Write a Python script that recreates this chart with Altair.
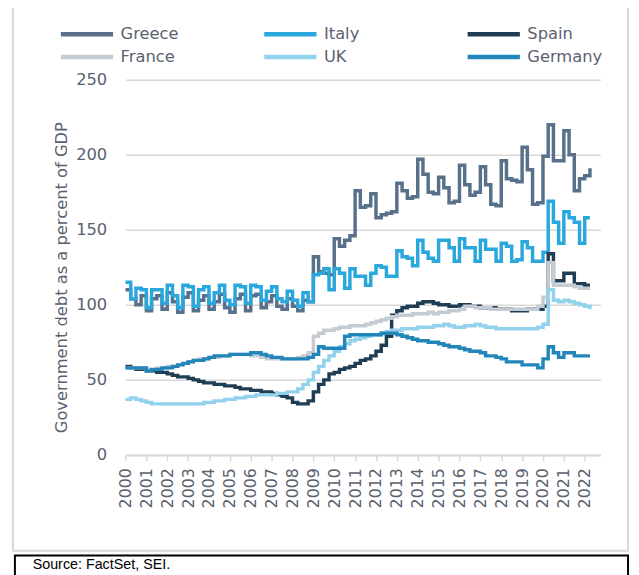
import altair as alt
import pandas as pd

# ---- data (quarterly, 2000Q1 .. 2022Q2) ----
years = list(range(2000, 2023))
countries = ["Greece", "Italy", "Spain", "France", "UK", "Germany"]
colors = {"Greece": "#587089", "Italy": "#2aa7dc", "Spain": "#1f3e54",
          "France": "#c5cbd2", "UK": "#93d2ec", "Germany": "#2386bb"}
row1 = ["Greece", "Italy", "Spain"]
row2 = ["France", "UK", "Germany"]

greece = [110, 104, 100, 106, 96, 104, 106, 97, 108, 102, 95, 105, 108, 96, 103, 106,
          97, 102, 107, 98, 95, 104, 107, 96, 106, 107, 98, 102, 106, 99, 97, 104,
          99, 96, 103, 102, 132, 122, 121, 120, 144, 139, 143, 146, 176, 165, 166, 174,
          158, 160, 161, 162, 181, 176, 171, 172, 197, 187, 175, 174, 185, 178, 168, 169,
          193, 180, 173, 175, 192, 180, 167, 166, 196, 184, 183, 182, 205, 190, 167, 168,
          199, 220, 196, 196, 216, 200, 176, 184, 186, 191]
italy = [115, 104, 111, 110, 98, 110, 110, 101, 113, 106, 98, 113, 112, 99, 110, 112,
         101, 108, 113, 103, 100, 113, 112, 101, 113, 112, 103, 109, 112, 104, 102, 109,
         103, 99, 108, 102, 120, 121, 124, 110, 124, 121, 111, 124, 119, 119, 113, 121,
         126, 125, 119, 119, 136, 132, 131, 126, 143, 135, 131, 129, 143, 143, 138, 129,
         144, 138, 138, 129, 143, 137, 137, 129, 141, 139, 129, 130, 142, 138, 129, 129,
         135, 169, 155, 141, 162, 158, 155, 141, 158, 158]
spain = [59, 58, 57, 57, 56, 56, 55, 55, 54, 53, 52, 52, 51, 50, 49, 48,
         48, 47, 47, 46, 46, 45, 44, 44, 43, 43, 42, 42, 41, 40, 39, 38,
         35, 34, 34, 36, 42, 47, 50, 54, 55, 57, 58, 59, 61, 63, 64, 66,
         69, 73, 79, 93, 96, 98, 99, 99, 101, 102, 102, 101, 100, 100, 99, 99,
         100, 100, 99, 99, 98, 98, 98, 97, 97, 97, 96, 96, 96, 97, 97, 97,
         99, 134, 116, 116, 121, 121, 114, 114, 113, 113]
france = [58, 58, 58, 58, 57, 57, 58, 58, 59, 59, 60, 61, 62, 63, 64, 64,
          65, 65, 66, 66, 67, 67, 67, 67, 66, 66, 65, 64, 64, 64, 64, 64,
          64, 65, 66, 68, 79, 81, 83, 83, 84, 85, 85, 86, 86, 86, 87, 88,
          89, 90, 91, 92, 93, 93, 93, 94, 94, 94, 95, 94, 95, 95, 96, 96,
          97, 99, 99, 98, 98, 98, 97, 97, 97, 97, 97, 97, 97, 97, 97, 99,
          105, 128, 113, 113, 113, 113, 112, 111, 111, 111]
uk = [37, 38, 37, 36, 35, 34, 34, 34, 34, 34, 34, 34, 34, 34, 34, 35,
      35, 36, 36, 37, 37, 38, 38, 39, 39, 40, 40, 40, 40, 41, 41, 42,
      42, 44, 47, 50, 55, 59, 63, 66, 69, 72, 74, 76, 77, 78, 79, 80,
      80, 81, 82, 83, 83, 84, 84, 84, 85, 85, 85, 86, 86, 87, 86, 85,
      85, 86, 86, 87, 86, 85, 85, 84, 84, 84, 84, 84, 84, 84, 84, 85,
      87, 110, 103, 102, 103, 102, 101, 100, 99, 97]
germany = [58, 58, 58, 58, 56, 57, 57, 58, 58, 59, 60, 61, 62, 63, 63, 64,
           65, 66, 66, 66, 67, 67, 67, 67, 68, 68, 67, 66, 65, 65, 64, 64,
           64, 64, 64, 65, 67, 72, 71, 71, 71, 71, 79, 80, 80, 80, 80, 80,
           80, 81, 81, 81, 80, 79, 78, 77, 76, 76, 75, 75, 74, 73, 72, 72,
           71, 70, 69, 69, 68, 66, 66, 65, 64, 62, 62, 62, 60, 60, 60, 58,
           64, 72, 68, 65, 68, 68, 66, 66, 66, 66]

series = {"Greece": greece, "Italy": italy, "Spain": spain,
          "France": france, "UK": uk, "Germany": germany}

rows = []
for c in countries:
    for i, v in enumerate(series[c]):
        rows.append({"country": c, "t": 2000 + i / 4, "value": v})
df = pd.DataFrame(rows)

TXT = "#5a6270"
FONT = "DejaVu Sans"

x_enc = alt.X("t:Q", title=None,
              scale=alt.Scale(domain=[2000, 2022.75], nice=False, zero=False),
              axis=alt.Axis(values=years, format="d", labelAngle=270, labelAlign="right",
                            labelBaseline="middle", labelPadding=7, labelFontSize=16,
                            labelColor=TXT, labelFont=FONT, grid=False, domain=True,
                            domainColor="#d9d9d9", domainWidth=2, ticks=True,
                            tickColor="#d9d9d9", tickSize=6, tickWidth=1.5,
                            labelOverlap=False, labelFlush=False))
y_enc = alt.Y("value:Q", title="Government debt as a percent of GDP",
              scale=alt.Scale(domain=[0, 250], nice=False),
              axis=alt.Axis(values=[0, 50, 100, 150, 200, 250], grid=True,
                            gridColor="#d9d9d9", gridWidth=1.5, domain=False, ticks=False,
                            labelPadding=19, labelFontSize=16.5, labelColor=TXT,
                            labelFont=FONT, titleFontSize=16.5, titleColor=TXT,
                            titleFont=FONT, titleFontWeight="normal",
                            titleX=-65, titleY=200, titleAngle=270,
                            titleAlign="center", titleBaseline="middle"))


def make_legend(y, pad):
    return alt.Legend(orient="none", legendX=-68, legendY=y, columns=3, title=None,
                      symbolType="stroke", symbolSize=2800, symbolStrokeWidth=4.5,
                      labelFontSize=16.5, labelColor=TXT, labelFont=FONT, labelOffset=5,
                      columnPadding=pad, gridAlign="all")


scale1 = alt.Scale(domain=row1, range=[colors[c] for c in row1])
scale2 = alt.Scale(domain=row2, range=[colors[c] for c in row2])
leg1 = make_legend(-75, 77)
leg2 = make_legend(-52, 60)

layers = []
for c in countries:
    base = alt.Chart(df).transform_filter(alt.datum.country == c).mark_line(
        interpolate="step-after", strokeWidth=3.5)
    if c in row1:
        layers.append(base.encode(x=x_enc, y=y_enc,
                                  color=alt.Color("country:N", scale=scale1, legend=leg1)))
    else:
        layers.append(base.encode(x=x_enc, y=y_enc,
                                  stroke=alt.Stroke("country:N", scale=scale2, legend=leg2)))

one = pd.DataFrame({"k": [0]})
frame = alt.Chart(one).mark_rect(fillOpacity=0, stroke="#d9d9d9", strokeWidth=2).encode(
    x=alt.value(-114), x2=alt.value(509), y=alt.value(-90), y2=alt.value(477))
srcbox = alt.Chart(one).mark_rect(fillOpacity=0, stroke="black", strokeWidth=2).encode(
    x=alt.value(-112), x2=alt.value(509), y=alt.value(482), y2=alt.value(530))
srctext = alt.Chart(one).mark_text(align="left", baseline="middle", fontSize=14.5,
                                   font="Liberation Sans", color="black").encode(
    x=alt.value(-94), y=alt.value(492), text=alt.value("Source: FactSet, SEI."))

chart = alt.layer(frame, *layers, srcbox, srctext).properties(
    width=481, height=380, autosize="none",
    padding={"left": 119, "top": 69, "right": 31, "bottom": 118}
).configure_view(stroke=None)

chart.save("out.html", embed_options={"renderer": "svg", "actions": False})
